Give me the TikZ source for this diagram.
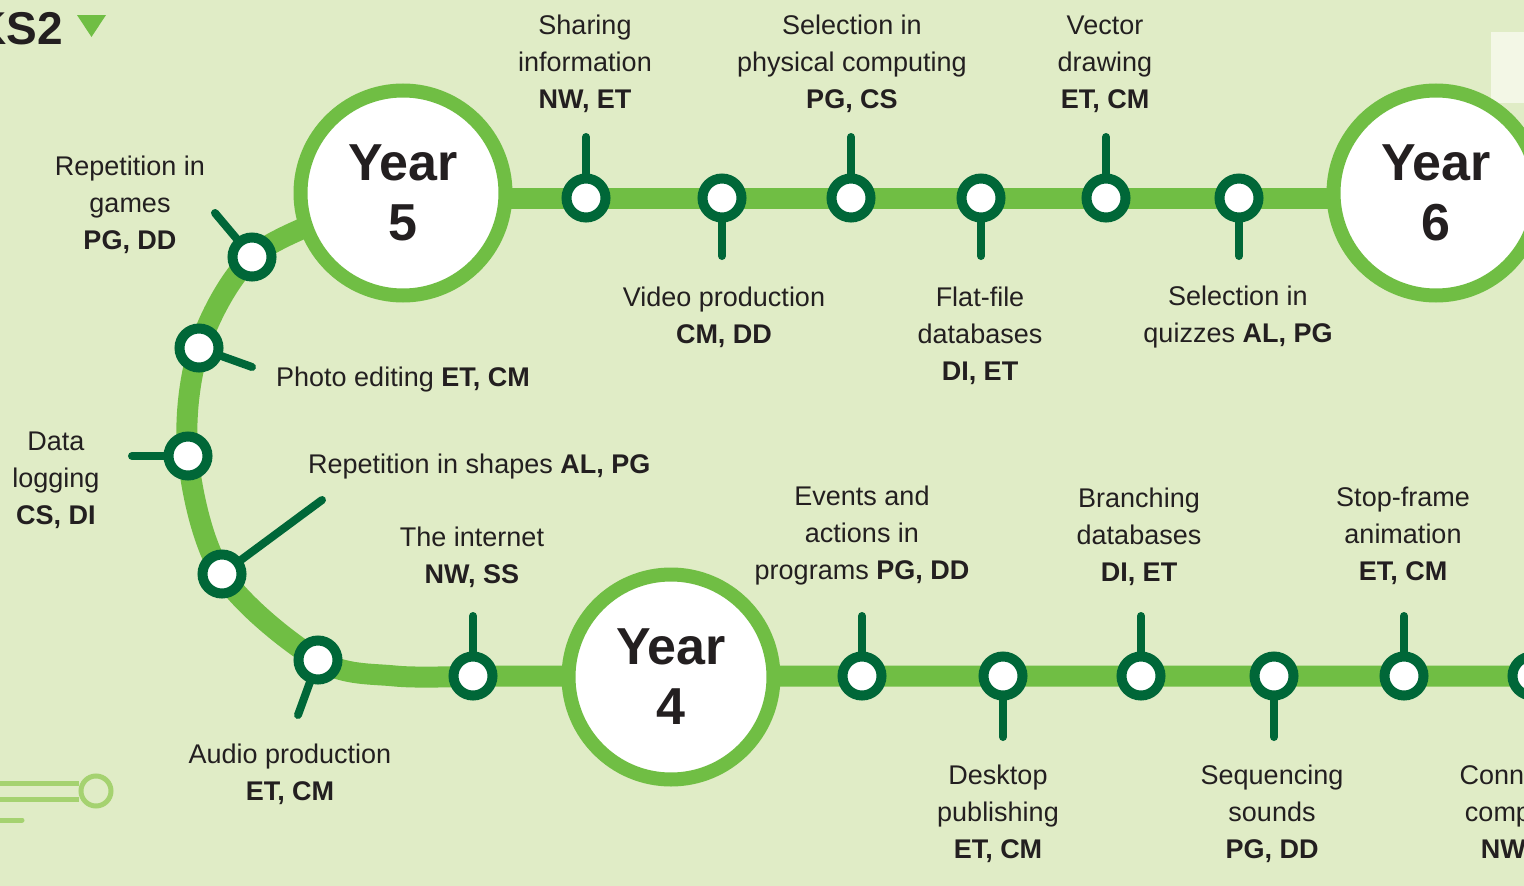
\documentclass[tikz,border=0pt]{standalone}
\usepackage{fontspec}
\setmainfont{Liberation Sans}
\definecolor{bgc}{RGB}{224,236,198}
\definecolor{trk}{RGB}{112,190,68}
\definecolor{dkg}{RGB}{0,103,56}
\definecolor{lgt}{RGB}{165,210,112}
\definecolor{txt}{RGB}{35,31,32}
\definecolor{pale}{RGB}{243,247,230}
\pgfdeclarelayer{back}
\pgfsetlayers{back,main}
\begin{document}
\begin{tikzpicture}[x=1pt,y=-1pt,
  track/.style={draw=trk,line width=21pt},
  stem/.style={draw=dkg,line width=8pt,line cap=round},
  station/.style={circle,draw=dkg,line width=10pt,fill=white,minimum size=39pt,inner sep=0pt},
  yearnode/.style={circle,draw=trk,line width=14pt,fill=white,minimum size=205pt,inner sep=0pt,
     align=center,text=txt,font=\fontsize{52}{60}\selectfont\bfseries},
  lbl/.style={font=\fontsize{27}{37}\selectfont,align=center,text=txt,inner sep=0pt},
  deco/.style={draw=lgt,line width=5pt}]
\useasboundingbox (0,0) rectangle (1524,886);
\clip (0,0) rectangle (1524,886);
\begin{pgfonlayer}{back}
\fill[bgc] (0,0) rectangle (1524,886);
\end{pgfonlayer}
\fill[pale] (1491,32) rectangle (1530,103);
% title
\node[anchor=base east,inner sep=0pt,text=txt,font=\fontsize{46}{50}\selectfont\bfseries] (ks) at (63,44) {KS2};
\fill[trk] (77,15) -- (106,15) -- (91.5,37) -- cycle;
% decoration
\node[circle,deco,minimum size=30pt,inner sep=0pt] (dc) at (96,791) {};
\coordinate (d1) at (0,783);
\coordinate (d2) at (0,799);
\coordinate (d3) at (0,820);
\coordinate (d3e) at (22,820);
\draw[deco] (d1) -- (d1 -| dc.west);
\draw[deco] (d2) -- (d2 -| dc.west);
\draw[deco,line cap=round] (d3) -- (d3e);
% year circles
\node[yearnode] (y5) at (403,193) {Year\\5};
\node[yearnode] (y6) at (1436,193) {Year\\6};
\node[yearnode] (y4) at (671,677) {Year\\4};
% stations
\node[station] (s1) at (586,198) {};
\node[station] (s2) at (722,198) {};
\node[station] (s3) at (851,198) {};
\node[station] (s4) at (981,198) {};
\node[station] (s5) at (1106,198) {};
\node[station] (s6) at (1239,198) {};
\node[station] (c1) at (252,257) {};
\node[station] (c2) at (199,348) {};
\node[station] (c3) at (188,456) {};
\node[station] (c4) at (222,574) {};
\node[station] (c5) at (318,660) {};
\node[station] (b1) at (473,676) {};
\node[station] (b2) at (862,676) {};
\node[station] (b3) at (1003,676) {};
\node[station] (b4) at (1141,676) {};
\node[station] (b5) at (1274,676) {};
\node[station] (b6) at (1404,676) {};
\node[station] (b7) at (1532,676) {};
% stem ends
\coordinate (t1) at (586,137);
\coordinate (t2) at (722,256);
\coordinate (t3) at (851,137);
\coordinate (t4) at (981,256);
\coordinate (t5) at (1106,137);
\coordinate (t6) at (1239,256);
\coordinate (u1) at (215,213);
\coordinate (u2) at (252,367);
\coordinate (u3) at (132,456);
\coordinate (u4) at (322,500);
\coordinate (u5) at (298,715);
\coordinate (v1) at (473,616);
\coordinate (v2) at (862,616);
\coordinate (v3) at (1003,737);
\coordinate (v4) at (1141,616);
\coordinate (v5) at (1274,737);
\coordinate (v6) at (1404,616);
\coordinate (rend) at (1560,676);
\begin{pgfonlayer}{back}
\draw[track] (y5 |- s1) -- (y6 |- s1);
\draw[track] plot[smooth,tension=0.55] coordinates {(345,212) (c1.center) (c2.center) (c3.center) (c4.center) (c5.center) (395,676) (b1.center)} -- (y4 |- b1) -- (rend);
\foreach \a/\b in {s1/t1,s2/t2,s3/t3,s4/t4,s5/t5,s6/t6,c1/u1,c2/u2,c3/u3,c4/u4,c5/u5,b1/v1,b2/v2,b3/v3,b4/v4,b5/v5,b6/v6}
  \draw[stem] (\a.center) -- (\b);
\end{pgfonlayer}
% labels
\node[lbl] (l1) at (585,64) {Sharing\\information\\\textbf{NW, ET}};
\node[lbl] (l2) at (852,64) {Selection in\\physical computing\\\textbf{PG, CS}};
\node[lbl] (l3) at (1105,64) {Vector\\drawing\\\textbf{ET, CM}};
\node[lbl] (l4) at (130,205) {Repetition in\\games\\\textbf{PG, DD}};
\node[lbl] (l5) at (724,317) {Video production\\\textbf{CM, DD}};
\node[lbl] (l6) at (980,336) {Flat-file\\databases\\\textbf{DI, ET}};
\node[lbl] (l7) at (1238,317) {Selection in\\quizzes \textbf{AL, PG}};
\node[lbl,anchor=west] (l8) at (276,380) {Photo editing \textbf{ET, CM}};
\node[lbl] (l9) at (56,480) {Data\\logging\\\textbf{CS, DI}};
\node[lbl,anchor=west] (l10) at (308,467) {Repetition in shapes \textbf{AL, PG}};
\node[lbl] (l11) at (472,557) {The internet\\\textbf{NW, SS}};
\node[lbl] (l12) at (862,536) {Events and\\actions in\\programs \textbf{PG, DD}};
\node[lbl] (l13) at (1139,537) {Branching\\databases\\\textbf{DI, ET}};
\node[lbl] (l14) at (1403,536) {Stop-frame\\animation\\\textbf{ET, CM}};
\node[lbl] (l15) at (290,774) {Audio production\\\textbf{ET, CM}};
\node[lbl] (l16) at (998,814) {Desktop\\publishing\\\textbf{ET, CM}};
\node[lbl] (l17) at (1272,814) {Sequencing\\sounds\\\textbf{PG, DD}};
\node[lbl] (l18) at (1528,814) {Connecting\\computers\\\textbf{NW, SS}};
\end{tikzpicture}
\end{document}
